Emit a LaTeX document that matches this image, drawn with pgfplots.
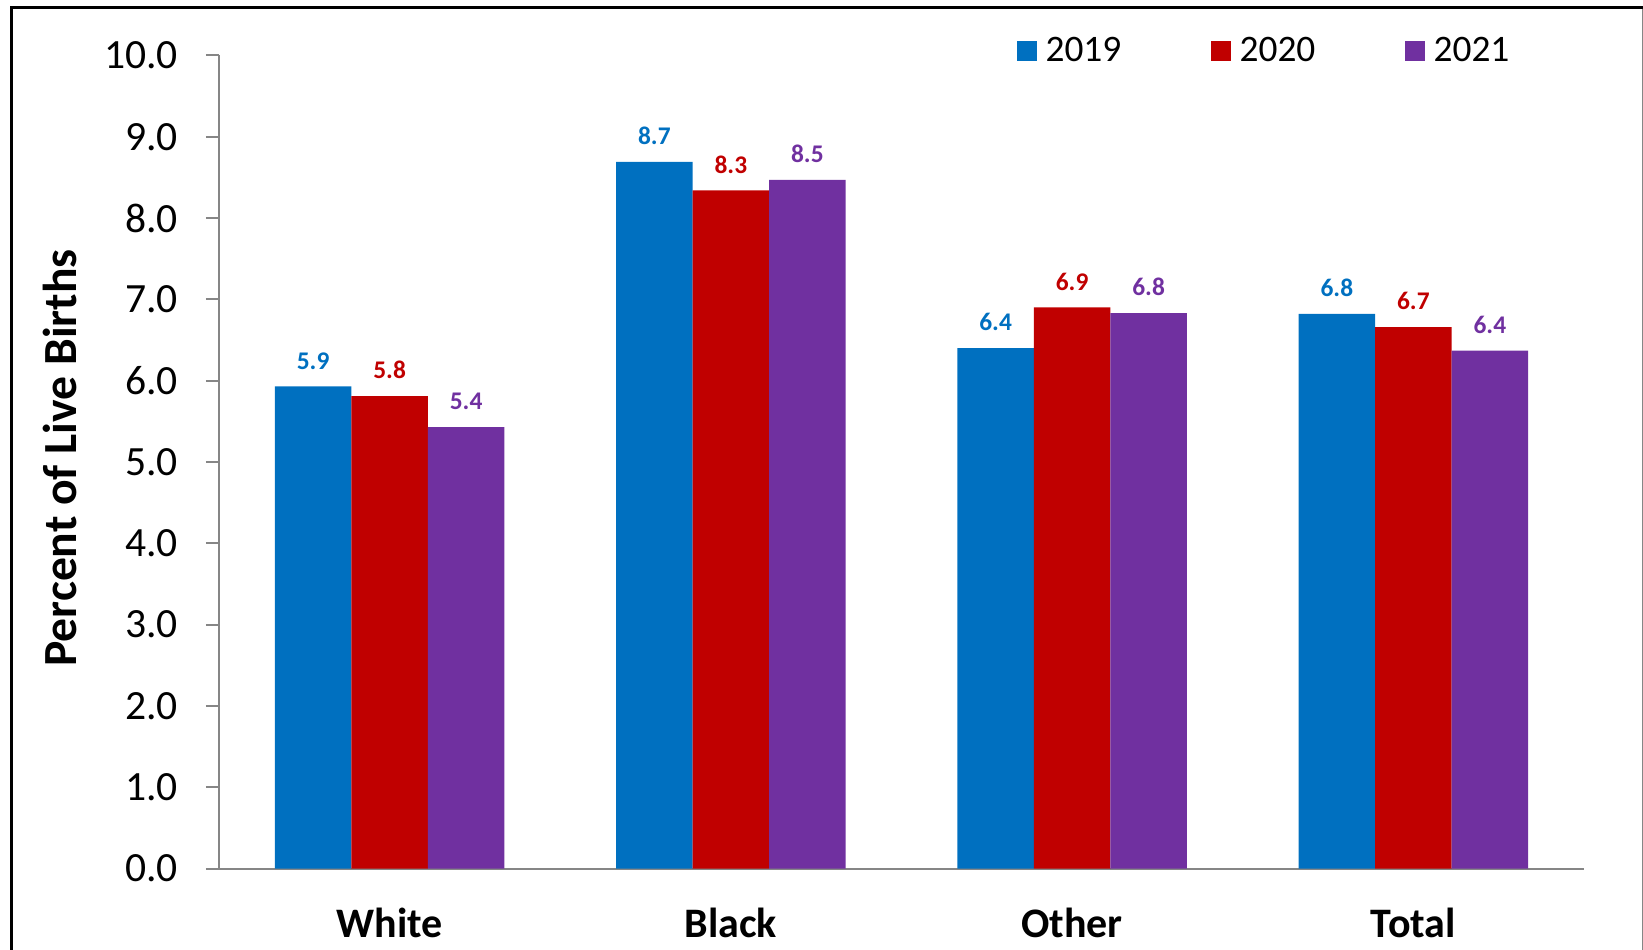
\documentclass[border=0pt]{standalone}
\usepackage{fontspec}
\setmainfont{Carlito}
\usepackage{pgfplots}
\pgfplotsset{compat=1.18}
\definecolor{c19}{HTML}{0070C0}
\definecolor{c20}{HTML}{C00000}
\definecolor{c21}{HTML}{7030A0}
\definecolor{axgray}{HTML}{868686}
\begin{document}
\begin{tikzpicture}
\useasboundingbox (-109.5pt,-40.2pt) rectangle (712pt,434.3pt);
\begin{axis}[
  scale only axis,
  width=682.5pt, height=406.6pt,
  ybar=0pt, bar width=38.25pt,
  xmin=-0.5, xmax=3.5,
  ymin=0, ymax=10,
  xtick={0,1,2,3},
  xticklabels={White,Black,Other,Total},
  ytick={0,1,...,10},
  yticklabel={\pgfmathprintnumber[fixed,fixed zerofill,precision=1]{\tick}},
  /pgf/number format/assume math mode=true,
  axis x line*=bottom, axis y line*=left,
  x axis line style={-, draw=axgray, line width=1pt},
  y axis line style={-, draw=axgray, line width=1pt},
  tick align=outside,
  major tick length=6.5pt,
  ytick style={draw=axgray, line width=1pt},
  xtick style={draw=none},
  yticklabel style={font=\fontsize{20.8}{24}\selectfont, text=black, xshift=-10.5pt},
  xticklabel style={font=\bfseries\fontsize{21}{25}\selectfont, text=black, yshift=-9.5pt},
  ylabel={Percent of Live Births},
  ylabel style={font=\bfseries\fontsize{23.8}{28}\selectfont, at={(axis description cs:-0.1165,0.505)}, anchor=center},
  nodes near coords={\pgfmathprintnumber[fixed,fixed zerofill,precision=1]{\pgfplotspointmeta}},
  every node near coord/.append style={font=\bfseries\fontsize{12.7}{15}\selectfont, yshift=5pt},
  legend columns=3,
  legend style={draw=none, fill=none, at={(0.584,1.005)}, anchor=west,
    font=\fontsize{18.7}{22}\selectfont, inner sep=0pt,
    /tikz/every odd column/.append style={column sep=2.5pt},
    /tikz/every even column/.append style={column sep=42.6pt}},
]
\addplot[fill=c19, draw=none, every node near coord/.append style={text=c19},
  legend image code/.code={\fill[c19] (0pt,-5pt) rectangle (10pt,5pt);}]
  coordinates {(0,5.93) (1,8.69) (2,6.40) (3,6.82)};
\addplot[fill=c20, draw=none, every node near coord/.append style={text=c20},
  legend image code/.code={\fill[c20] (0pt,-5pt) rectangle (10pt,5pt);}]
  coordinates {(0,5.81) (1,8.34) (2,6.90) (3,6.66)};
\addplot[fill=c21, draw=none, every node near coord/.append style={text=c21},
  legend image code/.code={\fill[c21] (0pt,-5pt) rectangle (10pt,5pt);}]
  coordinates {(0,5.43) (1,8.47) (2,6.83) (3,6.37)};
\legend{2019,2020,2021}
\end{axis}
\draw[line width=1.5pt, black] (-103.75pt,-60pt) -- (-103.75pt,430.55pt) -- (712pt,430.55pt);
\draw[line width=0.6pt, axgray] (711.6pt,430pt) -- (711.6pt,-60pt);
\end{tikzpicture}
\end{document}
